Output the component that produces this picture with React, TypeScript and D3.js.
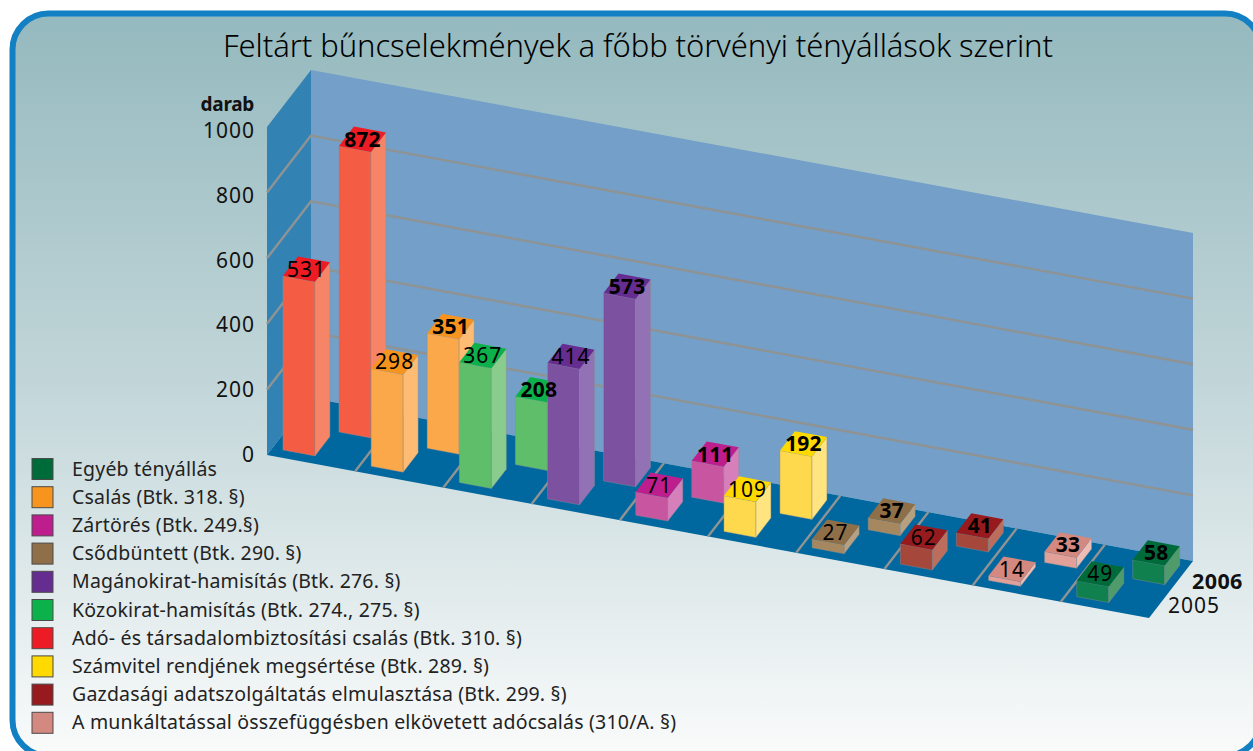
import React from "react";
import * as d3 from "d3";

const W = 1253, H = 751;
const categories = ["Adó", "Csalás", "Közokirat", "Magánokirat", "Zártörés", "Számvitel", "Csőd", "Gazdasági", "Munkáltatás", "Egyéb"];
const values2005 = [531, 298, 367, 414, 71, 109, 27, 62, 14, 49];
const values2006 = [872, 351, 208, 573, 111, 192, 37, 41, 33, 58];
const topColors = ["#ED1C24", "#F7941D", "#0DB14B", "#662D91", "#BE1E8D", "#FFD900", "#8F6F48", "#971B1E", "#D38880", "#006B3A"];
const frontColors = ["#F45D43", "#FBA84B", "#5FBE6A", "#7C51A0", "#C8559F", "#FFD94D", "#A58860", "#A5473A", "#E2A099", "#10804E"];
const sideColors = ["#F58566", "#FDBB74", "#8ACC8D", "#9272B5", "#D67FBA", "#FFE47F", "#B7A07F", "#BC6D5B", "#EDBDB5", "#509B6C"];
const axisTicks = [0, 200, 400, 600, 800, 1000];
const gridTicks = [200, 400, 600, 800];
const legendLabels = [
  "Egyéb tényállás", "Csalás (Btk. 318. §)", "Zártörés (Btk. 249.§)", "Csődbüntett (Btk. 290. §)",
  "Magánokirat-hamisítás (Btk. 276. §)", "Közokirat-hamisítás (Btk. 274., 275. §)",
  "Adó- és társadalombiztosítási csalás (Btk. 310. §)", "Számvitel rendjének megsértése (Btk. 289. §)",
  "Gazdasági adatszolgáltatás elmulasztása (Btk. 299. §)", "A munkáltatással összefüggésben elkövetett adócsalás (310/A. §)",
];
const legendColors = ["#006B3A", "#F7941D", "#BE1E8D", "#8F6F48", "#662D91", "#0DB14B", "#ED1C24", "#FFD900", "#971B1E", "#D38880"];
const font = "'Noto Sans', sans-serif";

// oblique projection: category axis, depth axis, value axis
const ux = d3.scaleLinear().domain([0, 10]).range([0, 882]);
const uy = d3.scaleLinear().domain([0, 10]).range([0, 163]);
const dx = d3.scaleLinear().domain([0, 1]).range([0, 44]);
const dy = d3.scaleLinear().domain([0, 1]).range([0, -57]);
const vy = d3.scaleLinear().domain([0, 1000]).range([0, -328]);
const tickY = d3.scaleLinear().domain([0, 1000]).range([462, 138]);
const P = (u: number, d: number, v: number): [number, number] => [267 + ux(u) + dx(d), 455 + uy(u) + dy(d) + vy(v)];
const line = d3.line();
const poly = (...pts: [number, number][]) => line(pts) + "Z";

const BW = 0.363, BD = 0.34;
const barU = [0.12, 0.538];
const barD = [0.122, 0.557];

function Bar({ i, s, v }: { i: number; s: number; v: number }) {
  const u0 = i + barU[s], u1 = u0 + BW, d0 = barD[s], d1 = d0 + BD;
  const e = { stroke: "#8a8f92", strokeWidth: 0.6, strokeOpacity: 0.7 };
  return (
    <g>
      <path d={poly(P(u0, d0, 0), P(u1, d0, 0), P(u1, d0, v), P(u0, d0, v))} fill={frontColors[i]} {...e} />
      <path d={poly(P(u1, d0, 0), P(u1, d1, 0), P(u1, d1, v), P(u1, d0, v))} fill={sideColors[i]} {...e} />
      <path d={poly(P(u0, d0, v), P(u1, d0, v), P(u1, d1, v), P(u0, d1, v))} fill={topColors[i]} />
    </g>
  );
}
function BarLabel({ i, s, v }: { i: number; s: number; v: number }) {
  const [x, y] = P(i + barU[s] + BW / 2, barD[s] + BD / 2, v);
  return (
    <text x={x} y={y + 7.5} textAnchor="middle" fontSize={21} fontFamily={font} fontWeight={s ? 700 : 400} fill="#000" letterSpacing={s ? 0.2 : 1}>{v}</text>
  );
}

export default function App() {
  return (
    <svg width={W} height={H} style={{ position: "fixed", left: 0, top: 0, display: "block" }}>
      <defs>
        <linearGradient id="bg" x1="0" y1="0" x2="0" y2="1">
          <stop offset="0" stopColor="#94B9BE" />
          <stop offset="0.5" stopColor="#C2D6D9" />
          <stop offset="1" stopColor="#FAFBFB" />
        </linearGradient>
      </defs>
      <rect width={W} height={H} fill="#fff" />
      <rect x={12.5} y={13.5} width={1248.5} height={742.5} rx={36} fill="url(#bg)" stroke="#1380C3" strokeWidth={6} />
      <text x={638} y={57} textAnchor="middle" fontSize={31} fontFamily={font} fontWeight={300} fill="#000" textLength={830} lengthAdjust="spacing">Feltárt bűncselekmények a főbb törvényi tényállások szerint</text>

      <path d={poly(P(0, 0, 0), P(0, 1, 0), P(0, 1, 1000), P(0, 0, 1000))} fill="#3382B4" />
      <path d={poly(P(0, 1, 0), P(10, 1, 0), P(10, 1, 1000), P(0, 1, 1000))} fill="#739FC8" />
      <path d={poly(P(0, 0, 0), P(10, 0, 0), P(10, 1, 0), P(0, 1, 0))} fill="#00679F" />
      {gridTicks.map((t) => (
        <path key={t} d={line([P(0, 0, t), P(0, 1, t), P(10, 1, t)])!} fill="none" stroke="#8F9393" strokeWidth={2.4} />
      ))}
      {d3.range(1, 10).map((u) => (
        <path key={u} d={line([P(u, 0, 0), P(u, 1, 0)])!} fill="none" stroke="#8F9393" strokeWidth={2.4} />
      ))}

      {values2006.map((v, i) => <Bar key={i} i={i} s={1} v={v} />)}
      {values2005.map((v, i) => <Bar key={i} i={i} s={0} v={v} />)}
      {values2006.map((v, i) => <BarLabel key={i} i={i} s={1} v={v} />)}
      {values2005.map((v, i) => <BarLabel key={i} i={i} s={0} v={v} />)}

      {axisTicks.map((t) => (
        <text key={t} x={255} y={tickY(t)} textAnchor="end" fontSize={21} fontFamily={font} fill="#111" letterSpacing={1}>{t}</text>
      ))}
      <text x={254} y={111} textAnchor="end" fontSize={19} fontWeight={700} fontFamily={font} fill="#111" letterSpacing={-0.3}>darab</text>
      <text x={1192} y={589} fontSize={21.5} fontWeight={700} fontFamily={font} fill="#111" letterSpacing={0.4}>2006</text>
      <text x={1168} y={613} fontSize={21} fontFamily={font} fill="#111" letterSpacing={1}>2005</text>

      {legendLabels.map((l, i) => {
        const y = 458.5 + i * 28.2;
        return (
          <g key={l}>
            <rect x={32} y={y} width={21} height={21} fill={legendColors[i]} stroke="#4a4a4a" strokeWidth={1} />
            <text x={72} y={y + 17} fontSize={19.5} fontFamily={font} fill="#222" letterSpacing={0.2}>{l}</text>
          </g>
        );
      })}
    </svg>
  );
}
